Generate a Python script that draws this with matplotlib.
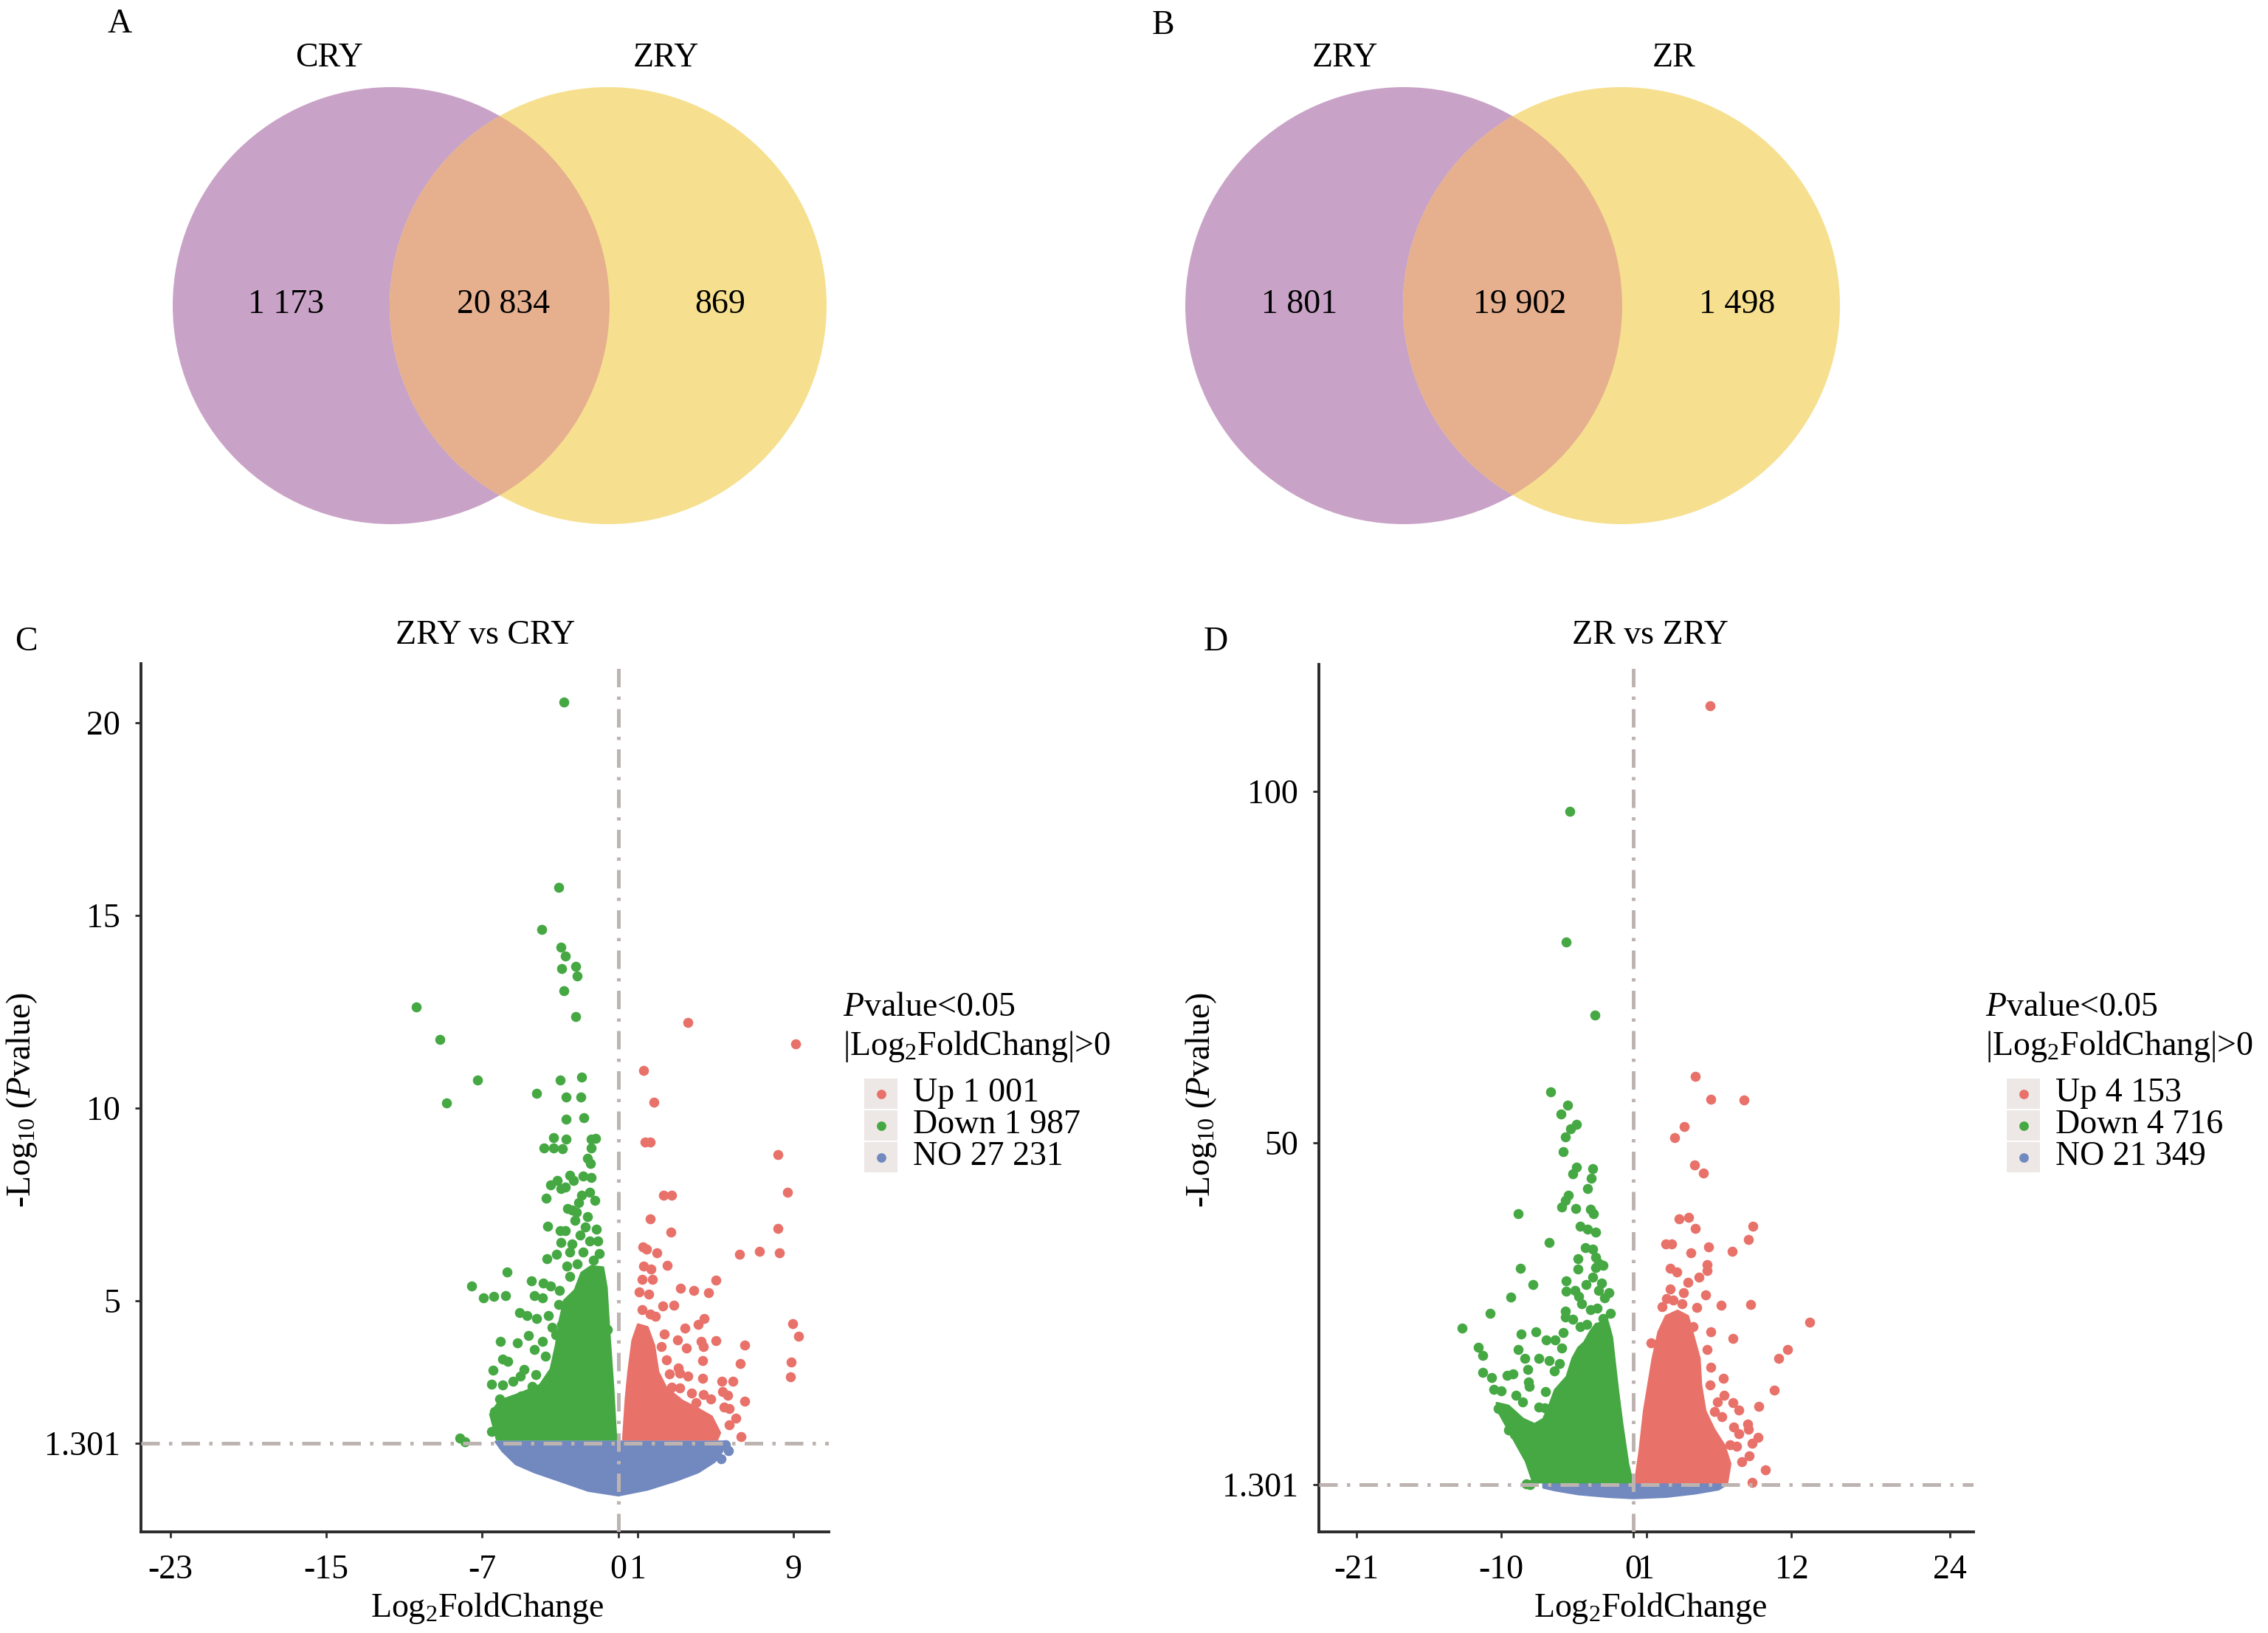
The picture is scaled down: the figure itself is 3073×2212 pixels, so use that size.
import numpy as np
import matplotlib
matplotlib.use('Agg')
import matplotlib.pyplot as plt
from matplotlib.patches import Circle, Rectangle

plt.rcParams['font.family'] = ['Liberation Serif', 'DejaVu Serif']
plt.rcParams['mathtext.fontset'] = 'custom'
plt.rcParams['mathtext.rm'] = 'Liberation Serif'
plt.rcParams['mathtext.it'] = 'Liberation Serif:italic'
plt.rcParams['mathtext.bf'] = 'Liberation Serif:bold'
plt.rcParams['font.size'] = 16.5

# ---------------- data ----------------
venn_a_names = ['CRY', 'ZRY']
venn_a_counts = [1173, 20834, 869]
venn_b_names = ['ZRY', 'ZR']
venn_b_counts = [1801, 19902, 1498]

groups = ['Up', 'Down', 'NO']
c_counts = [1001, 1987, 27231]
d_counts = [4153, 4716, 21349]
p_cut = 1.301

c_xticks = [-23, -15, -7, 0, 1, 9]
c_yticks = [1.301, 5, 10, 15, 20]
d_xticks = [-21, -10, 0, 1, 12, 24]
d_yticks = [1.301, 50, 100]

# panel C (ZRY vs CRY): scattered points (log2FC, -log10 p)
c_down = [(-2.80, 20.53), (-3.05, 15.73), (-3.94, 14.63), (-2.94, 14.17), (-2.71, 13.94),
          (-2.91, 13.62), (-2.20, 13.67), (-2.11, 13.43), (-2.80, 13.05), (-10.37, 12.63),
          (-2.20, 12.38), (-9.15, 11.77), (-7.22, 10.73), (-3.00, 10.72), (-1.90, 10.81),
          (-4.20, 10.38), (-8.81, 10.14), (-2.68, 10.28), (-1.93, 10.28),
          (-2.69, 9.71), (-1.79, 9.75), (-3.32, 9.24), (-2.69, 9.20), (-3.82, 8.97),
          (-3.33, 8.96), (-2.88, 8.94), (-1.40, 9.19), (-1.17, 9.21), (-1.40, 8.97),
          (-1.57, 8.70), (-1.43, 8.56), (-2.48, 8.25), (-2.29, 8.12), (-1.82, 8.23),
          (-1.40, 8.19), (-3.15, 8.12), (-3.47, 8.00), (-2.95, 7.91), (-2.71, 7.95),
          (-1.89, 7.74), (-1.47, 7.82), (-3.72, 7.65), (-2.37, 7.36), (-2.16, 7.29),
          (-2.23, 7.09), (-1.57, 7.19), (-3.64, 6.94), (-2.99, 6.82), (-2.71, 6.82),
          (-1.68, 6.92), (-1.13, 6.85), (-1.96, 6.71), (-2.95, 6.51), (-2.37, 6.47),
          (-1.47, 6.54), (-1.06, 6.54), (-3.17, 6.21), (-3.65, 6.09), (-2.51, 6.27),
          (-1.82, 6.27), (-0.99, 6.23), (-5.70, 5.75), (-7.52, 5.38), (-6.91, 5.07),
          (-6.39, 5.12), (-5.79, 5.14), (-4.46, 5.51), (-3.86, 5.45), (-3.47, 5.38),
          (-3.02, 5.27), (-4.30, 5.14), (-3.88, 5.07), (-5.06, 4.69), (-4.71, 4.62),
          (-4.19, 4.54), (-3.61, 4.62), (-3.06, 4.90), (-2.51, 5.62), (-2.64, 5.89),
          (-5.95, 3.49), (-5.67, 3.42), (-6.43, 3.20), (-4.85, 3.22), (-4.23, 3.08),
          (-4.30, 3.73), (-3.75, 3.56), (-2.99, 3.56), (-6.50, 2.84), (-5.95, 2.81),
          (-5.40, 2.91), (-4.44, 2.77), (-4.99, 2.53), (-5.26, 2.19), (-6.36, 2.12),
          (-5.67, 1.92), (-4.57, 2.19), (-4.02, 2.23), (-6.50, 1.61), (-8.15, 1.44),
          (-7.88, 1.33), (-3.20, 4.11), (-2.92, 4.38), (-0.85, 4.66), (-0.58, 4.25),
          (-2.05, 7.55), (-1.20, 7.60), (-2.60, 7.40), (-1.30, 6.05), (-2.10, 5.95),
          (-3.40, 4.30), (-4.60, 4.10), (-3.90, 3.95), (-5.20, 3.90), (-6.05, 3.95),
          (-3.55, 2.60), (-3.90, 2.45), (-6.10, 2.45), (-5.05, 3.05)]
c_up = [(3.56, 12.22), (9.08, 11.67), (1.28, 10.98), (1.81, 10.15),
        (1.38, 9.11), (1.63, 9.11), (2.31, 7.74), (2.73, 7.73), (8.18, 8.79), (8.68, 7.82),
        (8.17, 6.88), (8.26, 6.25), (7.25, 6.28), (6.21, 6.20), (1.63, 7.12), (2.70, 6.78),
        (1.25, 6.40), (1.46, 6.34), (1.97, 6.25), (2.52, 5.91), (1.29, 5.89), (1.69, 5.82),
        (1.21, 5.56), (1.74, 5.55), (4.99, 5.53), (3.18, 5.32), (3.87, 5.27), (4.63, 5.21),
        (1.07, 5.23), (1.56, 5.17), (2.29, 4.86), (2.84, 4.88), (1.21, 4.76), (1.63, 4.66),
        (1.90, 4.59), (4.41, 4.54), (4.08, 4.38), (3.42, 4.28), (8.94, 4.40), (9.26, 4.07),
        (2.34, 4.14), (3.04, 3.99), (4.23, 3.94), (5.01, 3.96), (3.48, 3.77), (4.38, 3.80),
        (6.47, 3.84), (2.45, 3.46), (4.33, 3.45), (6.25, 3.36), (8.86, 3.40), (3.07, 3.25),
        (3.14, 3.12), (8.82, 3.03), (4.33, 2.98), (5.32, 2.91), (5.87, 2.90), (2.73, 2.75),
        (3.14, 2.73), (3.76, 2.60), (4.38, 2.57), (5.34, 2.64), (5.62, 2.54), (6.47, 2.40),
        (5.41, 2.23), (5.69, 2.19), (6.03, 1.95), (5.69, 1.78), (6.28, 1.47), (2.59, 2.33),
        (3.83, 2.12), (2.20, 3.80), (2.60, 3.10), (3.55, 3.05), (4.00, 2.35), (4.75, 2.45)]
c_no = [(5.48, 1.27), (5.65, 1.10), (5.28, 0.90)]
# outlines of the solid, over-plotted masses
c_down_mass = [(-6.23, 1.40), (-6.57, 2.05), (-6.09, 2.40), (-4.99, 2.60), (-4.02, 2.81),
               (-3.47, 3.22), (-3.20, 3.84), (-2.99, 4.52), (-2.78, 5.00), (-2.23, 5.27),
               (-1.89, 5.72), (-1.40, 5.89), (-0.79, 5.86), (-0.61, 5.34), (-0.47, 4.18),
               (-0.28, 2.81), (-0.12, 1.40)]
c_up_mass = [(0.25, 1.40), (0.39, 2.47), (0.52, 3.15), (0.73, 3.97), (1.01, 4.38),
             (1.49, 4.31), (1.83, 3.84), (2.04, 3.15), (2.45, 2.74), (3.28, 2.40),
             (4.10, 2.19), (4.79, 1.99), (5.21, 1.57), (5.07, 1.40)]
c_no_mass = [(-6.29, 1.34), (-5.95, 1.10), (-5.26, 0.76), (-4.30, 0.55), (-2.92, 0.31),
             (-1.54, 0.07), (0.0, -0.05), (1.49, 0.10), (3.00, 0.34), (4.10, 0.55),
             (4.93, 0.82), (5.34, 1.10), (5.48, 1.34)]

# panel D (ZR vs ZRY)
d_down = [(-4.79, 97.2), (-5.11, 78.6), (-2.92, 68.1), (-6.26, 57.2), (-4.98, 55.3),
          (-5.49, 54.1), (-4.30, 52.6), (-4.75, 51.9), (-5.14, 50.8), (-5.30, 48.7),
          (-4.30, 46.5), (-3.05, 46.3), (-4.60, 45.5), (-3.21, 44.9), (-3.45, 43.4),
          (-4.93, 42.5), (-5.15, 41.8), (-5.42, 40.8), (-4.34, 40.6), (-3.27, 40.5),
          (-3.01, 39.9), (-8.74, 39.9), (-4.05, 38.1), (-3.45, 37.6), (-2.83, 37.2),
          (-6.37, 35.8), (-3.61, 35.0), (-3.10, 34.8), (-4.20, 33.4), (-2.88, 33.7),
          (-2.61, 32.8), (-2.28, 32.5), (-4.20, 32.0), (-2.83, 32.2), (-8.58, 32.1),
          (-7.63, 29.8), (-5.09, 30.3), (-3.56, 29.8), (-5.11, 28.8), (-4.16, 28.1),
          (-4.42, 28.9), (-2.61, 28.9), (-2.17, 27.9), (-1.84, 28.6), (-9.29, 28.0),
          (-10.84, 25.7), (-12.96, 23.6), (-5.15, 26.0), (-5.15, 25.1), (-3.27, 26.2),
          (-2.72, 26.4), (-1.73, 25.7), (-4.05, 23.8), (-3.50, 24.1), (-8.52, 22.7),
          (-7.37, 23.0), (-5.31, 22.9), (-6.59, 21.9), (-5.93, 21.9), (-11.75, 20.8),
          (-11.42, 19.7), (-8.74, 20.5), (-5.42, 20.7), (-8.25, 19.2), (-8.03, 17.7),
          (-7.15, 19.2), (-6.37, 18.9), (-11.42, 17.2), (-10.75, 16.5), (-9.58, 16.8),
          (-9.14, 17.0), (-7.92, 15.9), (-7.88, 15.3), (-10.58, 14.8), (-10.02, 14.6),
          (-6.66, 14.5), (-10.24, 12.1), (-9.80, 11.6), (-7.15, 12.3), (-6.70, 12.2),
          (-9.47, 9.0), (-9.03, 8.4), (-7.70, 8.5), (-7.04, 8.9), (-8.14, 1.4), (-7.81, 1.3),
          (-3.90, 27.0), (-3.05, 30.8), (-2.40, 30.0), (-4.60, 24.8), (-2.30, 24.9),
          (-6.00, 17.5), (-5.60, 18.5), (-8.90, 14.0), (-8.40, 13.0)]
d_up = [(5.81, 112.2), (4.69, 59.4), (5.88, 56.2), (8.38, 56.1), (3.85, 52.3), (3.15, 50.7),
        (4.63, 46.8), (5.29, 45.6), (3.47, 39.1), (4.20, 39.3), (4.69, 37.8), (9.07, 38.1),
        (8.72, 36.2), (2.48, 35.5), (2.92, 35.5), (5.69, 35.1), (4.36, 34.3), (7.48, 34.5),
        (2.81, 32.1), (3.32, 31.5), (5.58, 32.6), (5.58, 31.8), (4.96, 30.8), (4.14, 30.1),
        (3.81, 28.6), (2.81, 29.1), (5.51, 28.3), (6.68, 26.8), (8.89, 26.9), (2.21, 26.6),
        (13.38, 24.4), (4.54, 23.8), (5.86, 23.0), (7.57, 22.1), (1.37, 21.5), (11.68, 20.5),
        (11.00, 19.2), (6.84, 16.4), (5.80, 15.5), (10.71, 14.7), (6.90, 14.0), (7.57, 12.9),
        (8.01, 11.9), (9.49, 12.4), (6.13, 11.7), (6.73, 10.9), (8.67, 9.9), (8.74, 9.1),
        (8.01, 8.5), (9.45, 8.0), (9.00, 7.2), (7.35, 6.9), (7.83, 6.7), (8.81, 5.4),
        (10.00, 3.4), (9.00, 1.6), (3.00, 27.5), (3.70, 27.0), (2.50, 27.8), (4.80, 26.5),
        (5.60, 20.5), (5.90, 18.0), (6.40, 13.0), (7.60, 9.5), (8.20, 4.5)]
d_no = []
d_down_mass = [(-7.59, 1.60), (-8.14, 4.60), (-8.92, 7.23), (-9.47, 9.11), (-10.13, 11.36),
               (-10.35, 12.87), (-9.47, 12.49), (-8.36, 10.61), (-7.48, 9.86), (-6.81, 10.61),
               (-6.37, 12.49), (-5.93, 14.74), (-5.04, 16.62), (-4.60, 19.25), (-4.16, 20.75),
               (-3.72, 21.50), (-3.27, 23.01), (-2.83, 24.13), (-1.95, 24.51), (-1.62, 22.25),
               (-1.40, 18.50), (-1.17, 14.74), (-0.84, 9.86), (-0.40, 4.23), (-0.07, 1.60)]
d_up_mass = [(0.15, 1.60), (0.49, 6.11), (0.82, 11.74), (1.15, 15.50), (1.48, 19.25),
             (1.92, 23.01), (2.48, 25.26), (3.36, 26.01), (4.14, 25.26), (4.58, 22.25),
             (5.02, 19.25), (5.13, 15.50), (5.46, 11.74), (6.13, 9.11), (6.90, 6.86),
             (7.35, 4.23), (7.12, 1.60)]
d_no_mass = [(-6.81, 1.71), (-6.81, 0.85), (-5.93, 0.47), (-4.16, -0.09), (-1.95, -0.46),
             (0.0, -0.65), (2.48, -0.46), (4.69, 0.02), (6.46, 0.59), (7.01, 1.23), (7.01, 1.71)]

# ---------------- style ----------------
W, H, DPI = 3073, 2212, 200
col = {'Up': '#E8716A', 'Down': '#45A843', 'NO': '#7189BF'}
venn_left, venn_right, venn_mid = '#C9A3C7', '#F6E08F', '#E6B08F'
ref_col = '#BDB4B1'
ink = '#2B2B2B'
dash = (0, (5, 2.5, 0.9, 2.5))


def fmt(n):
    return f'{n:,}'.replace(',', ' ')


fig = plt.figure(figsize=(W / DPI, H / DPI), dpi=DPI)


def volcano(rect, masses, pts, xlim, ylim, xticks, yticks):
    ax = fig.add_axes([rect[0] / W, 1 - rect[3] / H, (rect[2] - rect[0]) / W, (rect[3] - rect[1]) / H])
    for g in ['NO', 'Down', 'Up']:
        m = np.array(masses[g])
        ax.fill(m[:, 0], m[:, 1], color=col[g], ec=col[g], lw=1.2, joinstyle='round', zorder=2)
        if len(pts[g]):
            p = np.array(pts[g])
            ax.scatter(p[:, 0], p[:, 1], s=24, color=col[g], lw=0, zorder=3)
    ax.axhline(p_cut, color=ref_col, lw=1.8, ls=dash, zorder=4)
    ax.axvline(0, color=ref_col, lw=1.8, ls=dash, zorder=4)
    ax.set_xlim(*xlim)
    ax.set_ylim(*ylim)
    ax.set_xticks(xticks)
    ax.set_xticklabels([str(t) for t in xticks])
    ax.set_yticks(yticks)
    ax.set_yticklabels([('%g' % t) if t != p_cut else '1.301' for t in yticks])
    for s in ['top', 'right']:
        ax.spines[s].set_visible(False)
    for s in ['left', 'bottom']:
        ax.spines[s].set_color(ink)
        ax.spines[s].set_linewidth(1.4)
    ax.tick_params(axis='x', direction='out', length=3, width=1.0, color=ink, pad=8, labelsize=16.5)
    ax.tick_params(axis='y', direction='out', length=3, width=1.0, color=ink, pad=7, labelsize=16.5)
    return ax


volcano((191, 899, 1123, 2075),
        {'Up': c_up_mass, 'Down': c_down_mass, 'NO': c_no_mass},
        {'Up': c_up, 'Down': c_down, 'NO': c_no},
        (-24.5, 10.8), (-1.0, 21.53), c_xticks, c_yticks)
volcano((1787, 900, 2674, 2075),
        {'Up': d_up_mass, 'Down': d_down_mass, 'NO': d_no_mass},
        {'Up': d_up, 'Down': d_down, 'NO': d_no},
        (-23.84, 25.8), (-5.47, 118.1), d_xticks, d_yticks)

# overlay in pixel units for venns, titles and legends
ov = fig.add_axes([0, 0, 1, 1])
ov.set_xlim(0, W)
ov.set_ylim(H, 0)
ov.axis('off')
ov.patch.set_alpha(0)


def venn(cl, cr, r, names, counts, name_pos, count_pos):
    ov.add_patch(Circle(cl, r, color=venn_left, lw=0))
    ov.add_patch(Circle(cr, r, color=venn_right, lw=0))
    lens = Circle(cl, r, color=venn_mid, lw=0)
    ov.add_patch(lens)
    lens.set_clip_path(Circle(cr, r, transform=ov.transData))
    for nm, (x, y) in zip(names, name_pos):
        ov.text(x, y, nm, ha='center', va='center', fontsize=16.5)
    for n, (x, y) in zip(counts, count_pos):
        ov.text(x, y, fmt(n), ha='center', va='center', fontsize=16.5)


venn((530, 414), (824, 414), 296, venn_a_names, venn_a_counts,
     [(446, 79), (902, 79)], [(388, 413), (682, 413), (976, 413)])
venn((1902, 414), (2197, 414), 296, venn_b_names, venn_b_counts,
     [(1822, 79), (2268, 79)], [(1761, 413), (2059, 413), (2354, 413)])

for letter, (x, y) in zip('ABCD', [(162, 33), (1576, 35), (35, 870), (1647, 870)]):
    ov.text(x, y, letter, ha='center', va='center', fontsize=16.5)

ov.text(658, 861, 'ZRY vs CRY', ha='center', va='center', fontsize=16.5)
ov.text(2236, 861, 'ZR vs ZRY', ha='center', va='center', fontsize=16.5)
for x in (660, 2236):
    ov.text(x, 2190, r'Log$_{\mathrm{2}}$FoldChange', ha='center', va='baseline', fontsize=16.5)
for x in (30, 1628):
    ov.text(x, 1490, r'-Log$_{\mathrm{10}}$ ($\mathit{P}$value)', ha='center', va='center',
            rotation=90, fontsize=16.5)


def legend(x0, counts):
    ov.text(x0, 1376, r'$\mathit{P}$value<0.05', ha='left', va='baseline', fontsize=16.5)
    ov.text(x0, 1429, r'|Log$_{\mathrm{2}}$FoldChang|>0', ha='left', va='baseline', fontsize=16.5)
    for i, (g, n) in enumerate(zip(groups, counts)):
        top = 1461 + i * 43
        ov.add_patch(Rectangle((x0 + 29, top), 45, 41, color='#EDE7E5', lw=0))
        ov.plot([x0 + 52], [top + 20.5], 'o', ms=4.6, color=col[g], mew=0)
        ov.text(x0 + 95, top + 31, f'{g} {fmt(n)}', ha='left', va='baseline', fontsize=16.5)


legend(1142, c_counts)
legend(2690, d_counts)

fig.savefig('out.png', dpi=DPI)
